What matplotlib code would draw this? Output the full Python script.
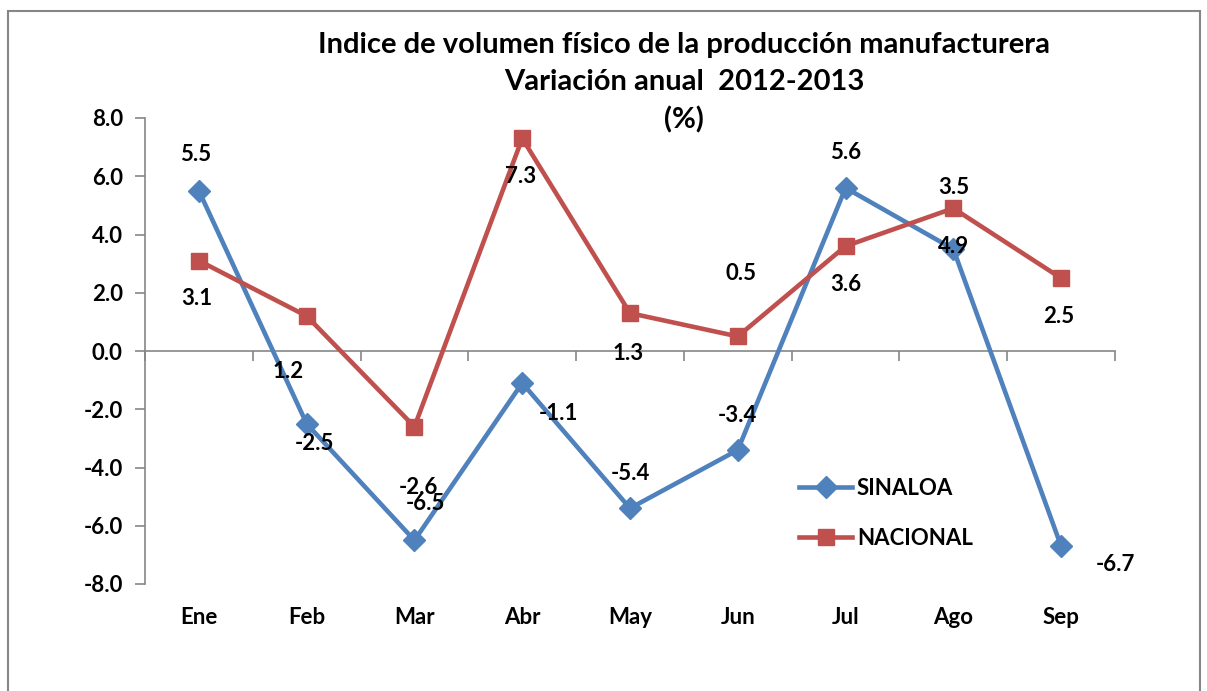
import matplotlib.pyplot as plt
from matplotlib.patches import Rectangle

#==============================================================================
# Data
#==============================================================================
months = ['Ene', 'Feb', 'Mar', 'Abr', 'May', 'Jun', 'Jul', 'Ago', 'Sep']
sinaloa = [5.5, -2.5, -6.5, -1.1, -5.4, -3.4, 5.6, 3.5, -6.7]
nacional = [3.1, 1.2, -2.6, 7.3, 1.3, 0.5, 3.6, 4.9, 2.5]
title_lines = ['Indice de volumen físico de la producción manufacturera',
               'Variación anual  2012-2013',
               '(%)']

# label offsets in pixels (dx, dy), matching the Excel label placement
sinaloa_offsets = [(-3, 36), (8, -20), (11, 37), (36, -30), (0, 35),
                   (0, 35), (0, 35), (0, 62), (54, -18)]
nacional_offsets = [(-2, -38), (-19, -55), (4, -61), (-2, -38), (-2, -40),
                    (3, 63), (0, -38), (0, -38), (-2, -38)]

BLUE = '#4F81BD'
RED = '#C0504D'
GRAY = '#868686'
FONT = 'Lato'
FS = 16

#==============================================================================
# Figure
#==============================================================================
W, H = 1207, 691
fig = plt.figure(figsize=(W / 100, H / 100), dpi=100)
fig.patch.set_facecolor('white')

# outer chart frame
fig.add_artist(Rectangle((8 / W, -0.1), (1200 - 8) / W, 1.1 - 11 / H,
                         transform=fig.transFigure, fill=False,
                         edgecolor=GRAY, linewidth=1.5))

ax = fig.add_axes([145 / W, 1 - 584 / H, (1115 - 145) / W, (584 - 118) / H])
x = list(range(len(months)))

ax.plot(x, sinaloa, color=BLUE, linewidth=3.3, marker='D', markersize=11,
        label='SINALOA', zorder=3)
ax.plot(x, nacional, color=RED, linewidth=3.3, marker='s', markersize=12,
        label='NACIONAL', zorder=3)

ax.set_xlim(-0.5, len(months) - 0.5)
ax.set_ylim(-8, 8)

# y axis
ax.set_yticks(range(-8, 9, 2))
ax.set_yticklabels([f'{v:.1f}' for v in range(-8, 9, 2)],
                   fontfamily=FONT, fontweight='bold', fontsize=FS)
ax.tick_params(axis='y', length=7, color=GRAY, width=1.2, pad=9)

# x axis crossing at zero, ticks on category boundaries
ax.spines['bottom'].set_position(('data', 0))
ax.set_xticks([i - 0.5 for i in range(len(months) + 1)])
ax.set_xticklabels([])
ax.tick_params(axis='x', length=7, color=GRAY, width=1.2, direction='out')
for s in ['left', 'bottom']:
    ax.spines[s].set_color(GRAY)
    ax.spines[s].set_linewidth(1.2)
for s in ['top', 'right']:
    ax.spines[s].set_visible(False)

# category names below the plot
for i, m in enumerate(months):
    ax.annotate(m, xy=(i, 0), xycoords=('data', 'axes fraction'),
                xytext=(0, -34), textcoords='offset pixels',
                ha='center', va='center', fontfamily=FONT,
                fontweight='bold', fontsize=FS)

# data labels (the -2.6 / -6.5 overlap is in the original too)
for i in x:
    ax.annotate(f'{sinaloa[i]:.1f}', xy=(i, sinaloa[i]),
                xytext=sinaloa_offsets[i], textcoords='offset pixels',
                ha='center', va='center', fontfamily=FONT,
                fontweight='bold', fontsize=FS, zorder=4)
    ax.annotate(f'{nacional[i]:.1f}', xy=(i, nacional[i]),
                xytext=nacional_offsets[i], textcoords='offset pixels',
                ha='center', va='center', fontfamily=FONT,
                fontweight='bold', fontsize=FS, zorder=4)

# legend
leg = ax.legend(loc='upper left',
                bbox_to_anchor=((799 - 145) / 970, (584 - 478) / 466),
                frameon=False, borderpad=0, borderaxespad=0,
                handlelength=2.4, handletextpad=0.2, labelspacing=1.3,
                prop={'family': FONT, 'weight': 'bold', 'size': FS})

# title, one line at a time
for line, ypx in zip(title_lines, [45, 82, 120]):
    fig.text(684 / W, 1 - ypx / H, line, ha='center', va='center',
             fontfamily=FONT, fontweight='bold', fontsize=21)

fig.savefig('out.png', dpi=100)
